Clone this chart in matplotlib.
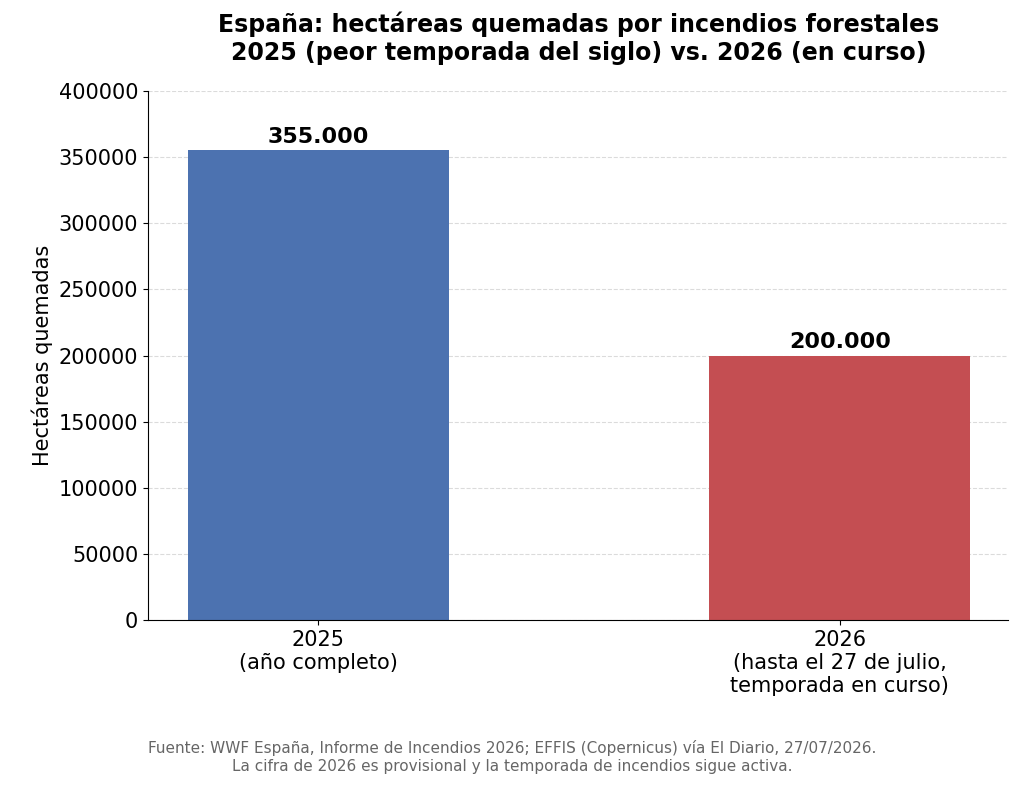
import matplotlib

matplotlib.use("Agg")
import matplotlib.pyplot as plt  # noqa: E402

categories = ["2025\n(año completo)", "2026\n(hasta el 27 de julio,\ntemporada en curso)"]
hectares = [355000, 200000]
value_labels = ["355.000", "200.000"]
colors = ["#4c72b0", "#c44e52"]

fig = plt.figure(figsize=(10.24, 7.91), dpi=100)
ax = fig.add_axes([0.1445, 0.216, 0.8398, 0.669])

x = range(len(categories))
bars = ax.bar(x, hectares, width=0.5, color=colors, zorder=2)
for bar, lab in zip(bars, value_labels):
    ax.text(bar.get_x() + bar.get_width() / 2, bar.get_height() + 3000, lab,
            ha="center", va="bottom", fontsize=16, fontweight="bold")

ax.set_xticks(list(x))
ax.set_xticklabels(categories, fontsize=15)
ax.set_xlim(-0.326, 1.322)
ax.set_ylim(0, 400000)
ax.set_yticks(range(0, 400001, 50000))
ax.tick_params(axis="y", labelsize=15)
ax.set_ylabel("Hectáreas quemadas", fontsize=15)
ax.grid(axis="y", linestyle="--", color="#cccccc", alpha=0.7, zorder=0)
ax.spines["top"].set_visible(False)
ax.spines["right"].set_visible(False)

fig.suptitle("España: hectáreas quemadas por incendios forestales\n"
             "2025 (peor temporada del siglo) vs. 2026 (en curso)",
             fontsize=17, fontweight="bold", x=0.565, y=0.985)
fig.text(0.5, 0.043,
         "Fuente: WWF España, Informe de Incendios 2026; EFFIS (Copernicus) vía El Diario, 27/07/2026.\n"
         "La cifra de 2026 es provisional y la temporada de incendios sigue activa.",
         ha="center", va="center", fontsize=11, color="#666666")

fig.savefig("out.png", dpi=100)
